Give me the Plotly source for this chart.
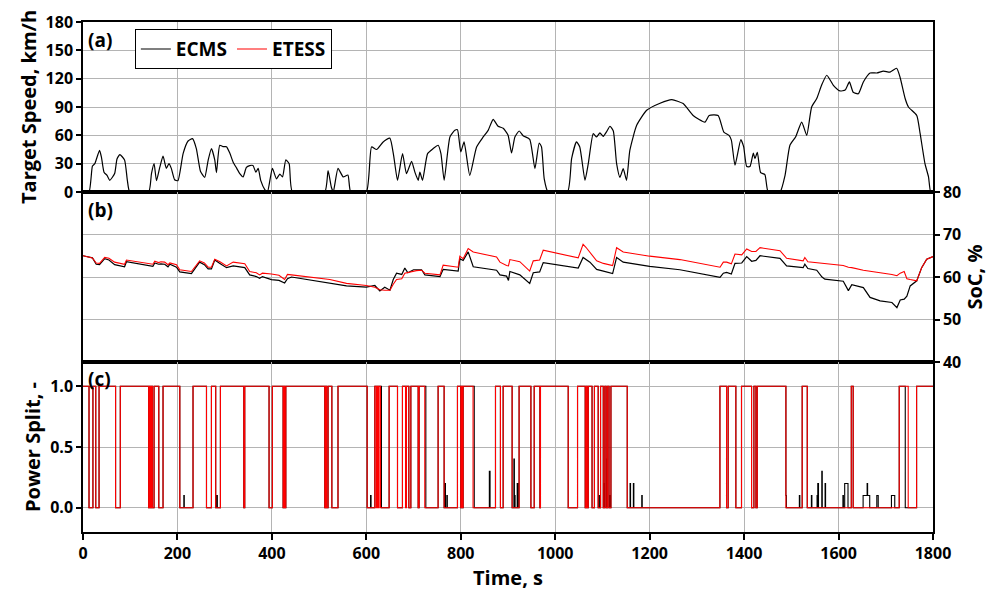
import numpy as np
import plotly.graph_objects as go
from plotly.subplots import make_subplots

# ---------------- data ----------------
speed_pts = [
    (0, 0), (12.7, 0), (20, 27.5), (25, 30), (35, 44), (39, 37), (44.5, 21), (51, 17.5), (56.6, 12.4),
    (67, 19.5), (72, 35), (78, 39.6), (88, 34), (94, 12), (99, 0), (139, 0), (145, 19.5), (150.5, 30),
    (155.6, 12), (162.5, 26), (169.5, 38), (176.5, 25), (182, 30), (187, 25), (194, 13), (201, 12),
    (212, 40.7), (222.5, 54), (231.8, 56.5), (240, 46), (248.7, 22), (257.8, 15.5), (265, 33.6),
    (272, 46), (279, 34), (282.6, 20.5), (289.6, 49.5), (296.6, 48), (303.8, 48), (311, 41),
    (317.8, 31.8), (325, 25.5), (332, 19.5), (339, 16), (346, 26), (353, 28), (360, 28), (366, 21),
    (371, 25), (376.5, 12), (385, 2.5), (390.6, 0), (401, 25), (409.7, 14), (416.8, 19), (422.5, 16),
    (429.5, 34), (436.6, 30), (443.6, 0), (512, 0), (519, 22.6), (526, 5), (530, 0), (540, 25),
    (551, 16), (561, 18), (567, 0), (600, 0), (611, 47.7), (621.6, 45), (635.6, 53), (649.8, 57),
    (658, 38), (666, 12.4), (676.7, 40.6), (685, 19.5), (695.8, 32.5), (702.8, 21), (709.8, 12.4),
    (713.4, 21), (719, 12.4), (729.7, 40.6), (741.5, 46), (752, 49.5), (758, 40.6), (764.8, 12.4),
    (777, 58.3), (787.5, 65.3), (793, 66), (800, 42.4), (807, 53), (819, 17.7), (833.5, 47.7),
    (847.5, 58.3), (858, 65.3), (868.6, 77), (879, 69.6), (889.8, 67.5), (900, 60.4), (907.6, 41.3),
    (914.6, 58.3), (923.7, 64.6), (932, 59.6), (946, 55.8), (957, 24.7), (966, 51.9), (971, 47.7),
    (976.7, 14), (985, 0), (1026, 0), (1034.7, 35.3), (1045, 53), (1052, 47.7), (1063, 12.4),
    (1070, 30), (1080.5, 61.8), (1087.6, 58.3), (1094.7, 62.5), (1101.8, 59), (1109, 64),
    (1116, 69.6), (1123, 64.6), (1130, 30), (1137, 15.5), (1144, 24.7), (1151, 12.4), (1158, 44),
    (1172.5, 70.6), (1193.6, 86.5), (1222, 94), (1247, 97.8), (1271, 93.6), (1292, 81), (1317, 74),
    (1326, 81), (1345, 81), (1357, 63.5), (1368, 60), (1373, 55), (1380.7, 28.3), (1393, 55.5),
    (1399, 48), (1405.5, 27), (1412.5, 27), (1419.5, 41.3), (1423, 35.3), (1428, 42), (1435, 20.5),
    (1444, 18.5), (1451, 0), (1476, 0), (1486.7, 17.7), (1497, 49.5), (1509, 58.3), (1522, 74),
    (1532.6, 60), (1543, 90), (1553.8, 98.9), (1564, 113), (1575, 123.6), (1589, 113), (1603, 107),
    (1614, 108), (1623, 116.5), (1631, 105.6), (1642, 104), (1652.5, 116.5), (1666.7, 126),
    (1681, 126), (1695, 128), (1709, 127), (1723, 131), (1730, 122), (1741, 99), (1748, 90),
    (1765.6, 81), (1772.7, 62), (1783, 30), (1790.5, 16), (1795, 0), (1800, 0),
]

soc_etess_pts = [
    (0, 65), (20, 64.5), (28, 63.3), (35, 63.2), (46, 64.6), (55, 64.4), (67, 63.5), (88, 63),
    (92, 64), (148, 63), (152, 63.7), (160, 63.4), (165, 63.6), (173, 63.5), (180, 62.9), (184, 63.3),
    (198, 62.9), (205, 61.7), (229.6, 61.3), (247, 63.8), (257, 63.3), (265, 62.3), (272, 62.3),
    (279, 64.2), (290, 63.6), (304, 62.6), (318, 63.5), (342.6, 63.1), (353, 61.3), (367, 61),
    (374, 60.5), (380, 60.9), (399, 60.7), (415, 60.4), (427, 59.4), (433, 60.6), (441.5, 60.5),
    (522.7, 59.4), (558, 58.5), (600, 58), (618, 57.6), (628.6, 57), (639, 56.9), (650, 56.9),
    (657, 58.3), (664, 59.4), (675, 59.6), (681.5, 60.9), (706, 61.5), (717, 61.6), (724, 60.9),
    (756, 60.5), (762.7, 62.8), (794.5, 62.3), (798, 64.9), (805, 64.3), (815.7, 66.7), (826.4, 65.9),
    (875.8, 64.7), (883, 63.5), (897, 62.7), (901, 62.6), (904, 64.1), (925, 63.6), (946, 61.4),
    (953.5, 63.8), (967, 64), (974.6, 66.3), (1048.7, 64.5), (1059, 67.7), (1065, 67),
    (1073.5, 65.9), (1087.7, 63.8), (1102, 63.2), (1121.6, 62.7), (1130, 66.9), (1144, 65.9),
    (1200, 64.9), (1264, 64.1), (1349, 62.3), (1356, 63.5), (1363, 63.5), (1373, 63.1),
    (1380.7, 65.4), (1395, 65.2), (1405.5, 66.6), (1416, 66), (1425, 66), (1433.7, 66.9),
    (1476, 66.2), (1490, 64.4), (1525, 63.8), (1528.6, 64.6), (1535, 63.6), (1553.8, 63.4),
    (1571, 63.1), (1610, 62.7), (1620.8, 62.3), (1628, 62.2), (1652.5, 61.6), (1666.7, 61.4),
    (1688, 61.1), (1713, 60.6), (1723.6, 60.3), (1730.6, 60.9), (1739, 61.3), (1744.7, 59.6),
    (1751.7, 59.4), (1765.6, 59.1), (1776, 62.2), (1786.7, 64.2), (1800, 64.8),
]

soc_ecms_pts = [
    (0, 65), (20, 64.5), (28, 63), (35, 62.9), (46, 64.3), (55, 64), (67, 62.9), (88, 62.4),
    (92, 63.6), (148, 62.5), (152, 63.3), (160, 63), (165, 63.1), (173, 63), (180, 62.4), (184, 63),
    (198, 62.3), (205, 61.2), (229.6, 60.8), (247, 63.5), (257, 62.9), (265, 61.9), (272, 61.9),
    (279, 64), (290, 63.2), (304, 62.2), (318, 62.6), (342.6, 62.2), (353, 60.5), (367, 60.1),
    (374, 59.7), (380, 60.1), (399, 59.4), (415, 59.2), (427, 58.6), (433, 59.6), (441.5, 60),
    (522.7, 58.6), (558, 57.9), (600, 57.6), (618, 58), (628.6, 56.7), (639, 57.6), (650, 56.9),
    (657, 59.4), (664, 60.9), (675, 60.6), (681.5, 62.1), (688, 61), (700, 61.7), (706, 61.7),
    (717, 61.7), (724, 60.5), (756, 60.1), (762.7, 61.8), (794.5, 61.4), (798, 64.3), (805, 63.9),
    (815.7, 65.9), (826.4, 62.4), (875.8, 61.6), (883, 60.5), (897, 60.2), (901, 59.2), (904, 61.3),
    (925, 60.5), (946, 58.5), (953.5, 61), (967, 61.2), (974.6, 63.4), (1048.7, 62.1), (1059, 64.6),
    (1073.5, 63.5), (1087.7, 61.8), (1102, 61.4), (1121.6, 60.8), (1130, 64.6), (1144, 63.5),
    (1200, 62.5), (1264, 61.7), (1349, 59.9), (1356, 60.9), (1363, 61.1), (1373, 60.7),
    (1380.7, 63.2), (1395, 63.3), (1405.5, 64.8), (1416, 63.7), (1425, 63.9), (1433.7, 65),
    (1476, 64.4), (1490, 62.6), (1525, 62.2), (1528.6, 63), (1535, 62), (1553.8, 61.6),
    (1565, 60), (1571, 59.5), (1610, 59), (1620.8, 56.8), (1628, 58.2), (1652.5, 57.5),
    (1666.7, 55.2), (1688, 54.4), (1713, 54), (1723.6, 52.8), (1730.6, 54.6), (1739, 54.8),
    (1744.7, 55.5), (1751.7, 57.9), (1765.6, 59.1), (1776, 62.2), (1786.7, 64.2), (1800, 64.8),
]

# intervals where the power split equals 1.0
ps_etess_on = [
    (0, 12.7), (21, 26.8), (34, 69), (79, 139), (141, 143), (145, 147), (150.4, 160.3),
    (169.5, 204.8), (233, 261.3), (271.9, 281), (291, 340.3), (342.4, 394), (401, 423.7),
    (426, 427), (429.3, 512), (514, 516), (519, 527), (540, 601.6), (617.8, 621), (623, 625),
    (627, 629.8), (648.2, 665.8), (676.4, 683), (685, 689.9), (694.1, 709.6), (711.7, 723.7),
    (751.9, 764.6), (792.8, 799.9), (801.5, 803), (805, 826), (873.3, 883.9), (889.6, 908.7),
    (923.5, 948.3), (955.3, 967.4), (968.7, 1027.4), (1047.1, 1063.4), (1066, 1067.5),
    (1069.8, 1078), (1083, 1091), (1095.9, 1101.6), (1105, 1108), (1111, 1114), (1117.8, 1152.3),
    (1348.6, 1362.7), (1366.2, 1382.5), (1394.5, 1415.6), (1420.6, 1424.8), (1427.7, 1488.4),
    (1523, 1533.6), (1626.8, 1631), (1728.5, 1747.5), (1765.2, 1800),
]
ps_ecms_on = [
    (0, 12.7), (21, 26.8), (34, 69), (79, 139), (141, 143), (145, 147), (150.4, 160.3),
    (169.5, 204.8), (233, 261.3), (271.9, 281), (291, 340.3), (342.4, 394), (401, 423.7),
    (426, 427), (429.3, 512), (514, 516), (519, 527), (540, 601.6), (617.8, 632),
    (648.2, 665.8), (676.4, 689.9), (694.1, 709.6), (711.7, 726), (751.9, 764.6),
    (792.8, 799.9), (801.5, 803), (805, 828.5), (873.3, 883.9), (889.6, 908.7),
    (923.5, 948.3), (955.3, 967.4), (968.7, 1027.4), (1047.1, 1063.4), (1066, 1067.5),
    (1069.8, 1078), (1083, 1091), (1095.9, 1101.6), (1105, 1108), (1111, 1114), (1117.8, 1152.3),
    (1348.6, 1362.7), (1366.2, 1382.5), (1394.5, 1415.6), (1420.6, 1424.8), (1427.7, 1488.4),
    (1523, 1533.6), (1626.8, 1631), (1728.5, 1741.2), (1765.2, 1800),
]
# ECMS partial power-split pulses: (start, end, value)
ps_ecms_pulses = [
    (213.5, 214.5, 0.1), (283.5, 284.5, 0.1), (609, 610, 0.1), (766.5, 767.5, 0.2),
    (770.5, 771.5, 0.1), (808.5, 809.5, 0.3), (860.5, 862, 0.3), (912.3, 913.3, 0.4),
    (914, 915, 0.1), (919.5, 921, 0.2), (958.3, 959.3, 0.3), (1072.5, 1074, 0.2),
    (1092.5, 1093.5, 0.1), (1102.5, 1103.5, 0.2), (1109.5, 1110.5, 0.4), (1115, 1116, 0.1),
    (1158.5, 1159.5, 0.2), (1165.5, 1166.5, 0.2), (1183.2, 1184.2, 0.1), (1488.4, 1489.4, 0.1),
    (1517, 1518, 0.1), (1542.3, 1543.3, 0.1), (1554.5, 1555.5, 0.1), (1556, 1557.5, 0.2),
    (1564.5, 1565.5, 0.3), (1571.5, 1572.5, 0.2), (1609.2, 1610.2, 0.1), (1613, 1620, 0.2),
    (1652, 1666, 0.1), (1660.5, 1661.5, 0.2), (1681, 1684, 0.1), (1712, 1719, 0.1),
]

time_ticks = [0, 200, 400, 600, 800, 1000, 1200, 1400, 1600, 1800]
speed_ticks = [0, 30, 60, 90, 120, 150, 180]
soc_ticks = [40, 50, 60, 70, 80]
ps_ticks = [0.0, 0.5, 1.0]
ps_ticktext = ["0.0", "0.5", "1.0"]

# ---------------- build step series ----------------
grid = np.round(np.arange(0, 1800.01, 0.25), 2)


def step_series(on_list, pulses=()):
    v = np.zeros_like(grid)
    for a, b, val in pulses:
        v[(grid >= a) & (grid < b)] = val
    for a, b in on_list:
        v[(grid >= a) & (grid < b)] = 1.0
    v[-1] = v[-2]
    keep = np.concatenate([[True], np.diff(v) != 0])
    keep[-1] = True
    return grid[keep], v[keep]


ecms_x, ecms_y = step_series(ps_ecms_on, ps_ecms_pulses)
etess_x, etess_y = step_series(ps_etess_on)

sp_t, sp_v = zip(*speed_pts)
se_t, se_v = zip(*soc_etess_pts)
sc_t, sc_v = zip(*soc_ecms_pts)

FONT = "Open Sans"
RED = "#ff0000"

fig = make_subplots(rows=3, cols=1, shared_xaxes=True, vertical_spacing=0)

fig.add_trace(go.Scatter(x=sp_t, y=sp_v, mode="lines", line=dict(color="black", width=1.2,
                         shape="spline", smoothing=0.5), showlegend=False), row=1, col=1)
fig.add_trace(go.Scatter(x=sc_t, y=sc_v, mode="lines", name="ECMS",
                         line=dict(color="black", width=1.2), showlegend=True), row=2, col=1)
fig.add_trace(go.Scatter(x=se_t, y=se_v, mode="lines", name="ETESS",
                         line=dict(color=RED, width=1.1), showlegend=True), row=2, col=1)
fig.add_trace(go.Scatter(x=ecms_x, y=ecms_y, mode="lines", line_shape="hv",
                         line=dict(color="black", width=1.1), showlegend=False), row=3, col=1)
fig.add_trace(go.Scatter(x=etess_x, y=etess_y, mode="lines", line_shape="hv",
                         line=dict(color=RED, width=1.1), showlegend=False), row=3, col=1)

tickfont = dict(family=FONT, size=16, color="black", weight="bold")
titlefont = dict(family=FONT, size=20, color="black", weight="bold")
GRID = "#b4b4b4"

common_x = dict(range=[0, 1800], tickvals=time_ticks, showgrid=True, gridcolor=GRID, gridwidth=1,
                zeroline=False, showline=True, linecolor="black", linewidth=1.5, mirror=True)
fig.update_xaxes(**common_x)
fig.update_xaxes(showticklabels=False, ticks="", row=1, col=1)
fig.update_xaxes(showticklabels=False, ticks="", row=2, col=1)
fig.update_xaxes(ticks="outside", ticklen=6, tickcolor="black", tickwidth=1.5, tickfont=tickfont,
                 title=dict(text="Time, s", font=titlefont, standoff=2), row=3, col=1)

common_y = dict(showgrid=True, gridcolor=GRID, gridwidth=1, zeroline=False, showline=True,
                linecolor="black", linewidth=1.5, mirror=True, ticks="outside", ticklen=5,
                tickcolor="black", tickwidth=1.5, tickfont=tickfont)
fig.update_yaxes(**common_y)
fig.update_yaxes(range=[0, 180], tickvals=speed_ticks,
                 title=dict(text="Target Speed, km/h", font=titlefont, standoff=4), row=1, col=1)
fig.update_yaxes(range=[40, 80], tickvals=soc_ticks, side="right",
                 title=dict(text="SoC, %", font=titlefont, standoff=6), row=2, col=1)
fig.update_yaxes(range=[-0.2, 1.2], tickvals=ps_ticks, ticktext=ps_ticktext,
                 title=dict(text="Power Split, -", font=titlefont, standoff=4), row=3, col=1)

label_font = dict(family=FONT, size=19, color="black", weight="bold")
for txt, yv in [("(a)", 0.994), ("(b)", 0.660), ("(c)", 0.329)]:
    fig.add_annotation(text=txt, xref="paper", yref="paper", x=0.004, y=yv, xanchor="left",
                       yanchor="top", showarrow=False, font=label_font)

fig.update_layout(
    width=995, height=592,
    margin=dict(l=83, r=62, t=22, b=60),
    paper_bgcolor="white", plot_bgcolor="white",
    legend=dict(orientation="h", x=0.061, y=0.986, xanchor="left", yanchor="top",
                bgcolor="white", bordercolor="black", borderwidth=1,
                font=dict(family=FONT, size=19, color="black", weight="bold"),
                itemwidth=30, tracegroupgap=0),
)

fig.write_html("out.html")
